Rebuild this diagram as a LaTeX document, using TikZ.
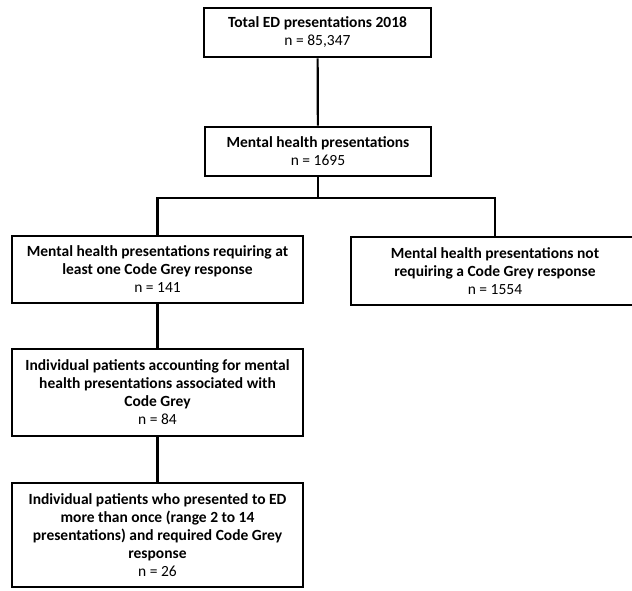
\documentclass[tikz,border=0pt]{standalone}
\usepackage{fontspec}
\setmainfont{Carlito}
\begin{document}
\begin{tikzpicture}[x=1pt,y=-1pt,
  flowbox/.style={draw=black, line width=2.6pt, fill=white, align=center, inner sep=0pt,
    font=\fontsize{15.5}{18}\selectfont},
  link/.style={draw=black, line width=2.2pt}]
\useasboundingbox (0,0) rectangle (632,590);
\clip (0,0) rectangle (632,590);
\node[flowbox, minimum width=227pt, minimum height=49pt] (b1) at (317.5,32.5)
  {\textbf{Total ED presentations 2018}\\n = 85,347};
\node[flowbox, minimum width=226pt, minimum height=49pt] (b2) at (318,151.5)
  {\textbf{Mental health presentations}\\n = 1695};
\node[flowbox, minimum width=291pt, minimum height=67pt] (b3) at (157.5,269.5)
  {\textbf{Mental health presentations requiring at}\\\textbf{least one Code Grey response}\\n = 141};
\node[flowbox, minimum width=288pt, minimum height=68pt] (b4) at (495,271)
  {\textbf{Mental health presentations not}\\\textbf{requiring a Code Grey response}\\n = 1554};
\node[flowbox, minimum width=291pt, minimum height=87pt] (b5) at (157.5,392.5)
  {\textbf{Individual patients accounting for mental}\\\textbf{health presentations associated with}\\\textbf{Code Grey}\\n = 84};
\node[flowbox, minimum width=291pt, minimum height=104pt] (b6) at (157.5,535)
  {\textbf{Individual patients who presented to ED}\\\textbf{more than once (range 2 to 14}\\\textbf{presentations) and required Code Grey}\\\textbf{response}\\n = 26};
\coordinate (br) at (318,198);
\draw[link] (b1) -- (b2);
\draw[link] (b2) -- (br);
\draw[link] (b3.north) |- (br) -| (b4.north);
\draw[link] (b3) -- (b5);
\draw[link] (b5) -- (b6);
\end{tikzpicture}
\end{document}
